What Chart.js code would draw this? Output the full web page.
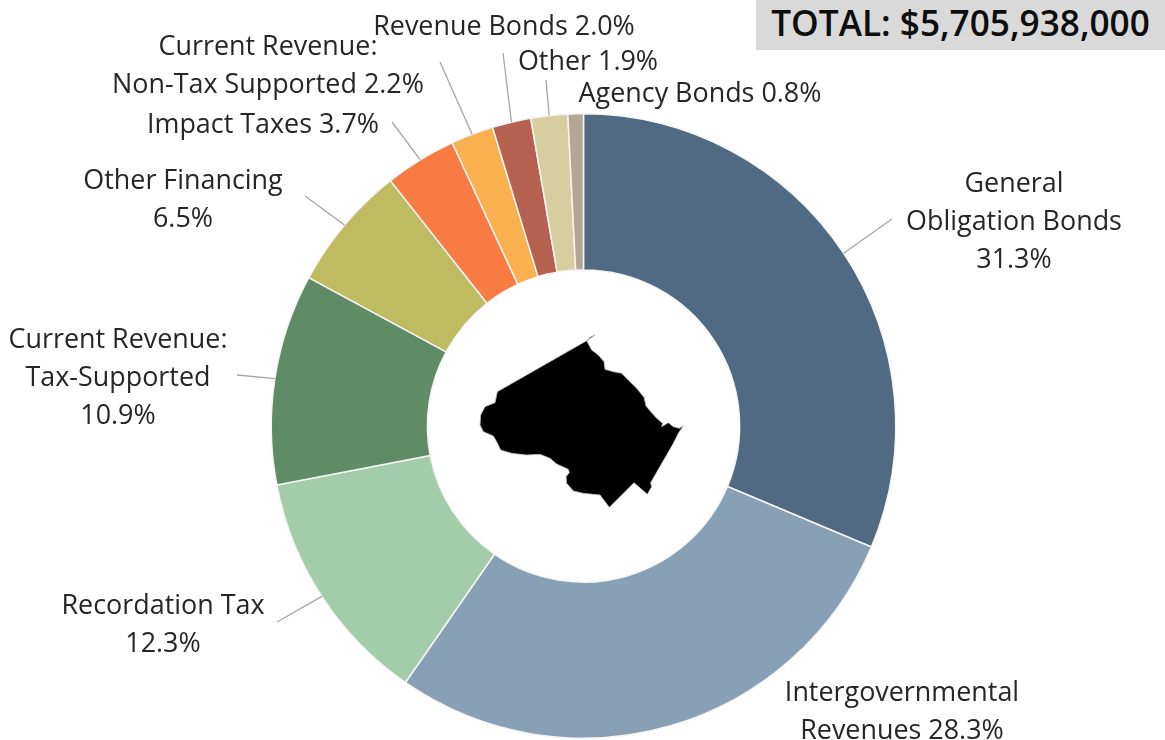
<!DOCTYPE html>
<html lang="en">

<head>
    <meta charset="UTF-8">
    <title>Funding sources</title>
    <script src="https://cdn.jsdelivr.net/npm/chart.js"></script>
    <style>
        html, body {
            margin: 0;
            padding: 0;
            background: #fff;
            overflow: hidden;
        }

        #wrap {
            position: relative;
            width: 1165px;
            height: 740px;
        }

        #total {
            position: absolute;
            left: 756px;
            top: 0;
            width: 409px;
            height: 50px;
            background: #d9d9d9;
            color: #0d0d0d;
            font: 600 35.2px/45px "Open Sans", sans-serif;
            text-align: center;
            white-space: nowrap;
        }
    </style>
</head>

<body>
    <div id="wrap">
        <canvas id="grafico" width="1165" height="740"></canvas>
        <div id="total">TOTAL: $5,705,938,000</div>
    </div>

    <script>
        const categories = ['General Obligation Bonds', 'Intergovernmental Revenues', 'Recordation Tax',
            'Current Revenue: Tax-Supported', 'Other Financing', 'Impact Taxes',
            'Current Revenue: Non-Tax Supported', 'Revenue Bonds', 'Other', 'Agency Bonds'];
        const shares = [31.3, 28.3, 12.3, 10.9, 6.5, 3.7, 2.2, 2.0, 1.9, 0.8];
        const colors = ['#4f6a82', '#87a0b5', '#a3cda8', '#5f8c65', '#bfbb60',
            '#f77b43', '#fbb04f', '#b56350', '#d6ce9f', '#b5a693'];
        const labelLines = [
            ['General', 'Obligation Bonds', '31.3%'],
            ['Intergovernmental', 'Revenues 28.3%'],
            ['Recordation Tax', '12.3%'],
            ['Current Revenue:', 'Tax-Supported', '10.9%'],
            ['Other Financing', '6.5%'],
            ['Impact Taxes 3.7%'],
            ['Current Revenue:', 'Non-Tax Supported 2.2%'],
            ['Revenue Bonds 2.0%'],
            ['Other 1.9%'],
            ['Agency Bonds 0.8%']
        ];

        // label placement: centre x, y of first line, leader end (null = no leader)
        const labelSpots = [
            [1014, 184, [892, 219]],
            [902, 693, null],
            [163, 606, [277, 622]],
            [118, 340, [237, 375]],
            [183, 181, [305, 196]],
            [263, 125, [392, 122]],
            [268, 47, [440, 62]],
            [504, 27, [503, 53]],
            [588, 62, [546, 80]],
            [700, 94, null]
        ];

        // county outline, traced, relative to the picture
        const county = [[465, 75], [452, 80], [440, 92], [455, 120], [475, 135], [492, 155], [495, 178], [520, 185], [545, 190],
            [570, 215], [590, 235], [612, 262], [618, 288], [635, 308], [650, 325], [668, 340], [665, 350], [685, 338],
            [700, 350], [718, 355], [730, 347], [715, 370], [700, 400], [632, 518], [635, 530], [622, 553], [582, 518],
            [508, 592], [480, 555], [430, 550], [400, 543], [380, 520], [378, 500], [388, 488], [385, 478], [350, 462],
            [330, 445], [300, 433], [260, 435], [215, 430], [182, 420], [170, 395], [160, 378], [130, 365], [120, 345],
            [122, 315], [135, 290], [165, 278], [172, 245], [440, 92]];

        const labelsPlugin = {
            id: 'labelsPlugin',
            afterDatasetsDraw(chart) {
                const ctx = chart.ctx;
                const arcs = chart.getDatasetMeta(0).data;
                ctx.save();

                // leader lines start on the middle of each slice's outer edge
                ctx.strokeStyle = '#a6a6a6';
                ctx.lineWidth = 1.3;
                arcs.forEach((arc, i) => {
                    const end = labelSpots[i][2];
                    if (!end) return;
                    const mid = (arc.startAngle + arc.endAngle) / 2;
                    ctx.beginPath();
                    ctx.moveTo(arc.x + Math.cos(mid) * arc.outerRadius, arc.y + Math.sin(mid) * arc.outerRadius);
                    ctx.lineTo(end[0], end[1]);
                    ctx.stroke();
                });

                ctx.fillStyle = '#262626';
                ctx.font = '26.9px "Open Sans", sans-serif';
                ctx.textAlign = 'center';
                ctx.textBaseline = 'middle';
                labelLines.forEach((lines, i) => {
                    lines.forEach((line, j) => {
                        ctx.fillText(line, labelSpots[i][0], labelSpots[i][1] + j * 38);
                    });
                });

                // county shape in the hole
                ctx.fillStyle = '#000';
                ctx.strokeStyle = '#bdbdbd';
                ctx.lineWidth = 0.8;
                ctx.beginPath();
                county.forEach((p, i) => {
                    const x = 440 + p[0] / 3;
                    const y = 310 + p[1] / 3;
                    if (i === 0) ctx.moveTo(x, y); else ctx.lineTo(x, y);
                });
                ctx.closePath();
                ctx.fill();
                ctx.stroke();
                ctx.restore();
            }
        };

        new Chart(document.getElementById('grafico').getContext('2d'), {
            type: 'doughnut',
            data: {
                labels: categories,
                datasets: [{
                    data: shares,
                    backgroundColor: colors,
                    borderColor: '#f4f4f4',
                    borderWidth: 1.5
                }]
            },
            options: {
                responsive: false,
                animation: false,
                cutout: '50%',
                layout: { padding: { top: 113, left: 2, right: 0, bottom: 1 } },
                plugins: {
                    legend: { display: false },
                    tooltip: { enabled: false }
                }
            },
            plugins: [labelsPlugin]
        });
    </script>
</body>

</html>
